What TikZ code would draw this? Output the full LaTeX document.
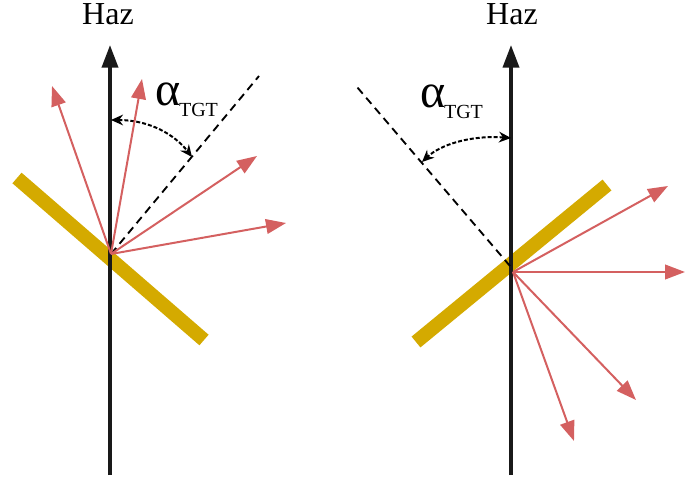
\documentclass[tikz,border=0pt]{standalone}
\usepackage{fontspec}
\setmainfont{Liberation Serif}
\usetikzlibrary{arrows.meta}
\definecolor{oro}{RGB}{212,170,0}
\definecolor{rojo}{RGB}{212,96,96}

\begin{document}
\begin{tikzpicture}[
    x=0.75pt, y=-0.75pt,
    haz/.style={draw=black!90, line width=2.8pt,
                -{Triangle[length=17pt, width=12pt]}},
    blanco/.style={draw=oro, line width=10.5pt},
    rayo/.style={draw=rojo, line width=1.5pt,
                 -{Triangle[length=15pt, width=11pt]}},
    normal/.style={draw, line width=1.4pt, dash pattern=on 6pt off 4pt},
    angulo/.style={draw, line width=1.5pt, dash pattern=on 3pt off 1.5pt,
                   {Stealth[length=9pt, width=8pt]}-{Stealth[length=9pt, width=8pt]}}
  ]
  \useasboundingbox (0,0) rectangle (686,481);

  % left: target tilted one way
  \coordinate (ejeIab) at (110,475);
  \coordinate (ejeIar) at (110,45);
  \coordinate (oI) at (111,254);
  \coordinate (nI) at (259,76);
  \draw[blanco] (17,178) -- (204,340);
  \draw[haz] (ejeIab) -- (ejeIar);
  \node[anchor=base, font=\fontsize{24}{28}\selectfont] (hazI) at (108,25) {Haz};
  \draw[normal] (oI) -- (nI);
  \coordinate (aIa) at (111,120);
  \coordinate (aIb) at (192,157);
  \draw[angulo] (aIa) .. controls (150,120) and (175,135) .. (aIb);
  \node[anchor=base west, inner sep=0pt] (alfaI) at (155,106)
    {\fontsize{36}{40}\selectfont α\kern-1pt\raisebox{-8pt}{\fontsize{15}{18}\selectfont TGT}};
  \coordinate (rI1) at (52,86);
  \coordinate (rI2) at (142,79);
  \coordinate (rI3) at (257,156);
  \coordinate (rI4) at (286,223);
  \draw[rayo] (oI) -- (rI1);
  \draw[rayo] (oI) -- (rI2);
  \draw[rayo] (oI) -- (rI3);
  \draw[rayo] (oI) -- (rI4);

  % right: target tilted the other way
  \coordinate (ejeDab) at (511,475);
  \coordinate (ejeDar) at (511,45);
  \coordinate (oD) at (513,272);
  \coordinate (nD) at (357,87);
  \draw[blanco] (416,342) -- (607,185);
  \draw[haz] (ejeDab) -- (ejeDar);
  \node[anchor=base, font=\fontsize{24}{28}\selectfont] (hazD) at (512,25) {Haz};
  \draw[normal] (510,266) -- (nD);
  \coordinate (aDa) at (511,138);
  \coordinate (aDb) at (422,162);
  \draw[angulo] (aDa) .. controls (470,135) and (440,145) .. (aDb);
  \node[anchor=base west, inner sep=0pt] (alfaD) at (420,108)
    {\fontsize{36}{40}\selectfont α\kern-1pt\raisebox{-8pt}{\fontsize{15}{18}\selectfont TGT}};
  \coordinate (rD1) at (668,186);
  \coordinate (rD2) at (685,272);
  \coordinate (rD3) at (636,400);
  \coordinate (rD4) at (574,441);
  \draw[rayo] (oD) -- (rD1);
  \draw[rayo] (oD) -- (rD2);
  \draw[rayo] (oD) -- (rD3);
  \draw[rayo] (oD) -- (rD4);
\end{tikzpicture}
\end{document}
